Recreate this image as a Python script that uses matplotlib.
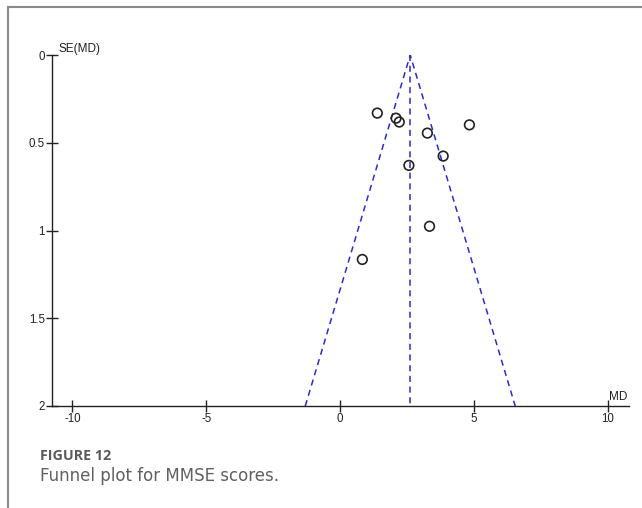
import matplotlib
matplotlib.use("Agg")
import matplotlib.pyplot as plt
from matplotlib.lines import Line2D

# Study estimates: mean difference and its standard error
md = [1.39, 2.09, 2.21, 3.26, 4.83, 3.85, 2.57, 3.34, 0.83]
se = [0.331, 0.360, 0.382, 0.445, 0.398, 0.576, 0.629, 0.976, 1.165]
pooled_md = 2.62

x_ticks = [-10, -5, 0, 5, 10]
x_tick_labels = ["-10", "-5", "0", "5", "10"]
y_ticks = [0, 0.5, 1, 1.5, 2]
y_tick_labels = ["0", "0.5", "1", "1.5", "2"]

se_max = 2.0

plt.rcParams["font.family"] = ["Liberation Sans", "DejaVu Sans"]

fig = plt.figure(figsize=(6.42, 5.08), dpi=100)
W, H = 642, 508

ax = fig.add_axes([51.7 / W, 1 - 406 / H, (629 - 51.7) / W, (406 - 55) / H])
ax.set_xlim(-10.77, 10.79)
ax.set_ylim(se_max, 0)

# Pseudo 95% confidence limits and pooled estimate
blue = "#2b2bd0"
ax.plot([pooled_md - 1.96 * se_max, pooled_md, pooled_md + 1.96 * se_max],
        [se_max, 0, se_max], ls=(0, (4, 3)), color=blue, lw=1.1, zorder=2)
ax.plot([pooled_md, pooled_md], [0, se_max], ls=(0, (4, 3)), color=blue,
        lw=1.1, zorder=2)

ax.scatter(md, se, s=48, facecolors="none", edgecolors="#222222",
           linewidths=1.2, zorder=3)

for side in ("top", "right"):
    ax.spines[side].set_visible(False)
for side in ("left", "bottom"):
    ax.spines[side].set_color("#222222")
    ax.spines[side].set_linewidth(1.0)

ax.set_xticks(x_ticks)
ax.set_xticklabels(x_tick_labels)
ax.set_yticks(y_ticks)
ax.set_yticklabels(y_tick_labels)
ax.tick_params(direction="inout", length=8, width=1.0, color="#222222",
               labelsize=8.3, labelcolor="#222222", pad=1)

ax.text(0.012, 1.0, "SE(MD)", transform=ax.transAxes, fontsize=8.5,
        color="#222222", ha="left", va="bottom")
ax.annotate("MD", xy=(10.72, 2.0), xytext=(0, 2), textcoords="offset points",
            fontsize=8.5, color="#222222", ha="right", va="bottom")

# Outer frame lines
fig.add_artist(Line2D([7.5 / W, 7.5 / W], [0, 1 - 7 / H],
                      transform=fig.transFigure, color="#8a8a8a", lw=1.5))
fig.add_artist(Line2D([7.5 / W, 1], [1 - 7 / H, 1 - 7 / H],
                      transform=fig.transFigure, color="#8a8a8a", lw=1.5))

fig.text(40 / W, 1 - 459.5 / H, "FIGURE 12", fontsize=10.3, fontweight="bold",
         color="#5a5a5a", ha="left", va="baseline",
         family=["Open Sans", "DejaVu Sans"])
fig.text(40 / W, 1 - 481 / H, "Funnel plot for MMSE scores.", fontsize=12,
         color="#606060", ha="left", va="baseline",
         family=["DejaVu Sans"])

fig.savefig("out.png", dpi=100)
